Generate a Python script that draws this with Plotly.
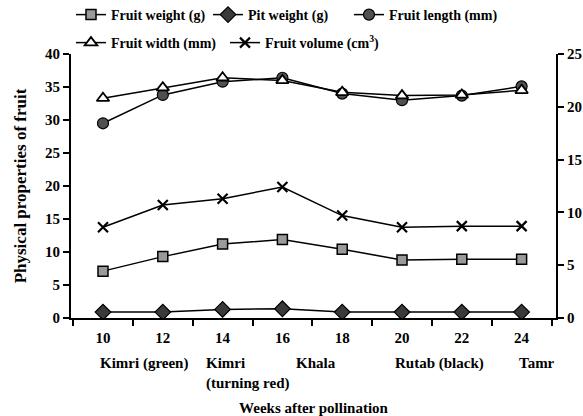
import plotly.graph_objects as go

weeks = [10, 12, 14, 16, 18, 20, 22, 24]
fruit_weight = [7.1, 9.3, 11.2, 11.9, 10.4, 8.8, 8.9, 8.9]
pit_weight = [0.9, 0.9, 1.3, 1.4, 0.9, 0.9, 0.9, 0.9]
fruit_length = [29.5, 33.8, 35.8, 36.4, 34.0, 33.0, 33.7, 35.1]
fruit_width = [33.3, 34.9, 36.4, 36.0, 34.2, 33.7, 33.8, 34.5]
fruit_volume = [8.6, 10.7, 11.3, 12.4, 9.7, 8.6, 8.7, 8.7]  # right axis (cm3)

stage_labels = ["Kimri (green)", "Kimri<br>(turning red)", "Khala", "Rutab (black)", "Tamr"]
stage_x = [9.83, 13.38, 16.4, 19.7, 23.83]

left_ticks = [0, 5, 10, 15, 20, 25, 30, 35, 40]
right_ticks = [0, 5, 10, 15, 20, 25]
minor_x = [9, 11, 13, 15, 17, 19, 21, 23, 25]

FONT = "Liberation Serif"
LINE = dict(color="black", width=1.5)


def bold(s):
    return "<b>" + s + "</b>"


fig = go.Figure()
fig.add_trace(go.Scatter(x=weeks, y=fruit_weight, name=bold("Fruit weight (g)"), mode="lines+markers",
                         line=LINE, legend="legend", legendwidth=92,
                         marker=dict(symbol="square", size=10, color="#9a9a9a", line=dict(color="black", width=1.5))))
fig.add_trace(go.Scatter(x=weeks, y=pit_weight, name=bold("Pit weight (g)"), mode="lines+markers",
                         line=LINE, legend="legend", legendwidth=96,
                         marker=dict(symbol="diamond", size=12, color="#3a3a3a", line=dict(color="black", width=1.2))))
fig.add_trace(go.Scatter(x=weeks, y=fruit_length, name=bold("Fruit length (mm)"), mode="lines+markers",
                         line=LINE, legend="legend", legendwidth=125,
                         marker=dict(symbol="circle", size=11, color="#505050", line=dict(color="black", width=1.2))))
fig.add_trace(go.Scatter(x=weeks, y=fruit_width, name=bold("Fruit width (mm)"), mode="lines+markers",
                         line=LINE, legend="legend2", legendwidth=109,
                         marker=dict(symbol="triangle-up", size=11, color="white", line=dict(color="black", width=1.8))))
fig.add_trace(go.Scatter(x=weeks, y=fruit_volume, name=bold("Fruit volume (cm<sup>3</sup>)"), mode="lines+markers",
                         line=LINE, legend="legend2", yaxis="y2", legendwidth=125,
                         marker=dict(symbol="x-thin", size=10, color="black", line=dict(color="black", width=2.2))))

for lab, xv in zip(stage_labels, stage_x):
    fig.add_annotation(x=xv, y=-(353 - 318) / 264, xref="x", yref="paper", text=bold(lab), showarrow=False,
                       xanchor="left", yanchor="top", align="left",
                       font=dict(family=FONT, size=15, color="black"))

fig.update_layout(
    width=583, height=416,
    margin=dict(l=71, r=27, t=54, b=98, autoexpand=False),
    paper_bgcolor="white", plot_bgcolor="white",
    font=dict(family=FONT, size=15, color="black"),
    showlegend=True,
    legend=dict(orientation="h", xref="container", yref="container", x=71 / 583, y=1 - 15 / 416,
                xanchor="left", yanchor="middle",
                font=dict(family=FONT, size=14, color="black"), bgcolor="rgba(0,0,0,0)",
                itemwidth=30, tracegroupgap=0),
    legend2=dict(orientation="h", xref="container", yref="container", x=71 / 583, y=1 - 43 / 416,
                 xanchor="left", yanchor="middle",
                 font=dict(family=FONT, size=14, color="black"), bgcolor="rgba(0,0,0,0)",
                 itemwidth=30, tracegroupgap=0),
    xaxis=dict(range=[8.93, 25.15], tickvals=weeks, ticktext=[bold(str(w)) for w in weeks],
               ticks="outside", ticklen=0, showgrid=False, zeroline=False,
               showline=True, linecolor="black", linewidth=2, ticklabelstandoff=5,
               tickfont=dict(family=FONT, size=15, color="black"),
               minor=dict(tickvals=minor_x, ticks="outside", ticklen=6, tickwidth=2, tickcolor="black", showgrid=False),
               title=dict(text=bold("Weeks after pollination"), font=dict(family=FONT, size=15, color="black"), standoff=60)),
    yaxis=dict(range=[0, 40], tickvals=left_ticks, ticktext=[bold(str(v)) for v in left_ticks],
               ticks="outside", ticklen=6, tickwidth=2, tickcolor="black",
               showgrid=False, zeroline=False, showline=True, linecolor="black", linewidth=2,
               tickfont=dict(family=FONT, size=15, color="black"),
               title=dict(text=bold("Physical properties of fruit"), font=dict(family=FONT, size=17, color="black"), standoff=14)),
    yaxis2=dict(range=[0, 25], tickvals=right_ticks, ticktext=[bold(str(v)) for v in right_ticks],
                overlaying="y", side="right",
                ticks="outside", ticklen=6, tickwidth=2, tickcolor="black",
                showgrid=False, zeroline=False, showline=True, linecolor="black", linewidth=2,
                tickfont=dict(family=FONT, size=15, color="black")),
)

fig.write_html("out.html", config={"displayModeBar": False},
               post_script="document.body.style.margin='0';document.body.style.padding='0';")
